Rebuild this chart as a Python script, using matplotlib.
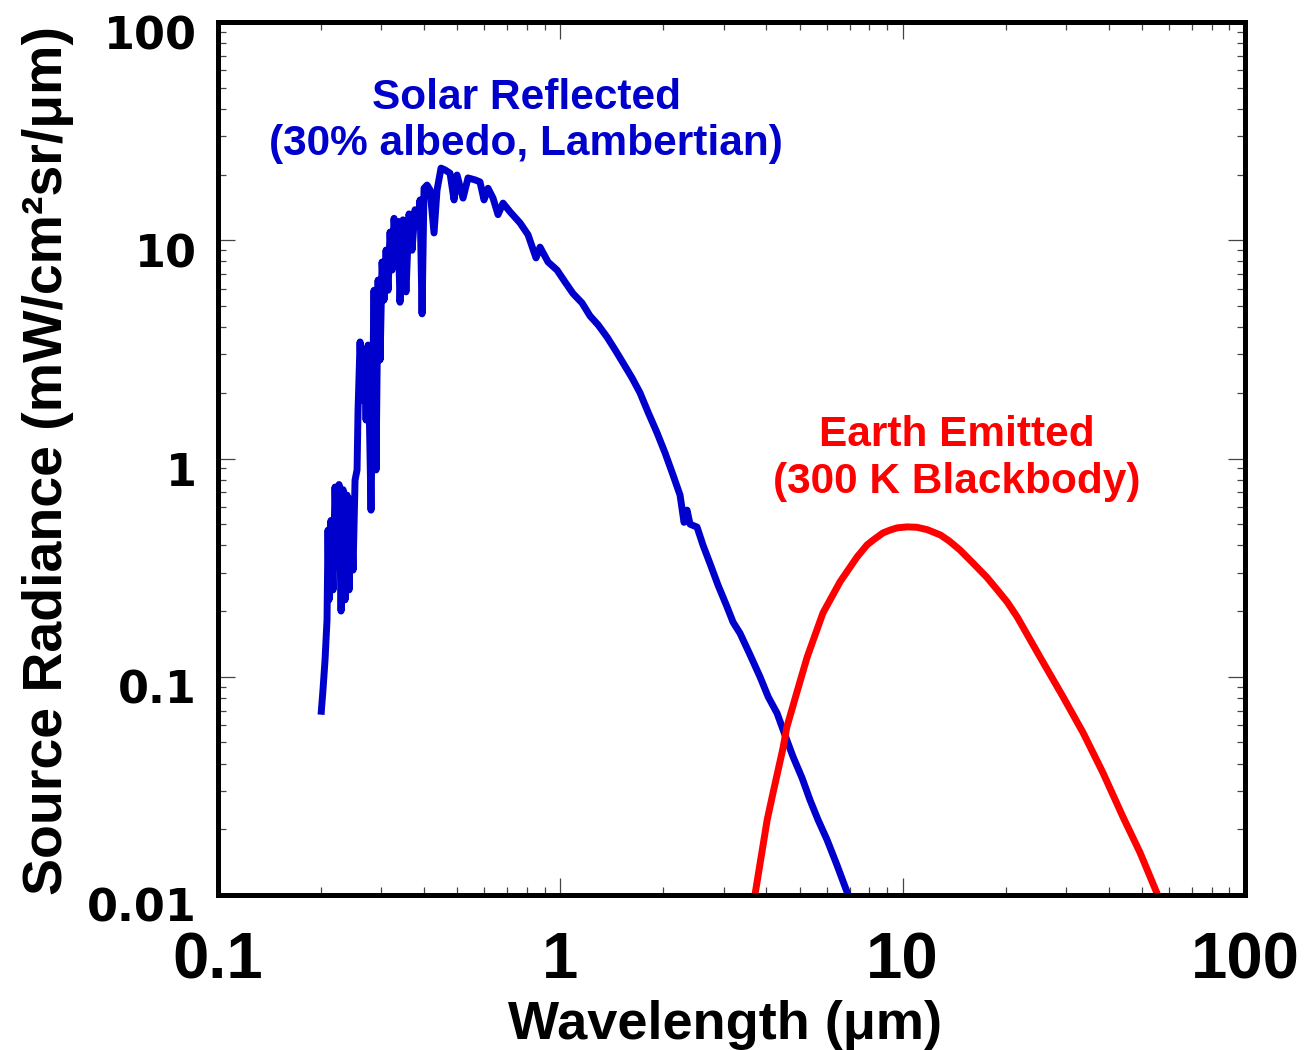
import matplotlib
matplotlib.use("Agg")
import matplotlib.pyplot as plt
from matplotlib.transforms import ScaledTranslation
from matplotlib.ticker import LogLocator, NullFormatter, FixedLocator, FixedFormatter

# ---- data ----
solar_wavelength = [
    0.200, 0.2026, 0.2054, 0.2082, 0.2096, 0.211, 0.2138, 0.2168, 0.2197, 0.2227,
    0.2257, 0.2288, 0.2319, 0.2350, 0.2382, 0.2414, 0.2447, 0.2480, 0.2514, 0.2548,
    0.2565, 0.2600, 0.2635, 0.2671, 0.2707, 0.2744, 0.2799, 0.2856, 0.2895, 0.2935,
    0.2975, 0.3015, 0.3055, 0.3097, 0.3139, 0.3181, 0.3224, 0.3268, 0.3311, 0.3356,
    0.3401, 0.3470, 0.3541, 0.3614, 0.3688, 0.3763, 0.3841, 0.3892, 0.3945, 0.3998,
    0.4080, 0.4163, 0.4276, 0.4364, 0.4482, 0.4604, 0.4761, 0.4892, 0.4992, 0.5197,
    0.5375, 0.5636, 0.5826, 0.5985, 0.6148, 0.6359, 0.6577, 0.6801, 0.7129, 0.7627,
    0.8046, 0.8492, 0.8724, 0.9206, 0.9781, 1.032, 1.089, 1.157, 1.221, 1.290,
    1.369, 1.445, 1.525, 1.620, 1.709, 1.804, 1.917, 2.023, 2.134, 2.237,
    2.298, 2.345, 2.393, 2.508, 2.612, 2.737, 2.888, 3.069, 3.195, 3.35,
    3.583, 3.832, 4.046, 4.297, 4.533, 4.784, 5.082, 5.364, 5.66, 6.013,
    6.43, 6.93,
]
solar_radiance = [
    0.067, 0.087, 0.119, 0.182, 0.47, 0.225, 0.52, 0.25, 0.74, 0.343,
    0.76, 0.20, 0.72, 0.225, 0.68, 0.25, 0.645, 0.308, 0.797, 0.886,
    1.67, 3.42, 1.85, 3.15, 1.50, 3.31, 0.58, 5.9, 0.886, 6.57,
    2.83, 7.95, 5.32, 9.02, 5.9, 10.9, 7.3, 12.6, 9.0, 12.2,
    5.2, 12.4, 5.8, 13.2, 9.0, 13.8, 11.7, 15.3, 4.6, 17.3,
    17.9, 17.0, 10.8, 17.0, 21.4, 21.0, 20.3, 15.3, 19.9, 15.6,
    19.3, 18.9, 18.5, 15.3, 17.3, 15.6, 13.1, 14.8, 13.5, 12.0,
    10.6, 8.3, 9.3, 7.95, 7.3, 6.44, 5.7, 5.16, 4.5, 4.09,
    3.6, 3.15, 2.74, 2.34, 2.0, 1.63, 1.31, 1.06, 0.84, 0.68,
    0.51, 0.58, 0.50, 0.485, 0.40, 0.33, 0.263, 0.209, 0.178, 0.158,
    0.126, 0.0998, 0.081, 0.068, 0.054, 0.043, 0.0344, 0.0272, 0.0221, 0.0179,
    0.0137, 0.0100,
]

earth_wavelength = [
    3.62, 3.71, 4.02, 4.18, 4.47, 4.59, 4.91, 5.26, 5.85, 6.56, 7.36, 7.87, 8.20,
    8.76, 9.19, 9.63, 10.3, 11.0, 11.8, 12.9, 13.7, 14.7, 16.1, 17.6, 18.9,
    20.2, 21.6, 25.2, 29.4, 33.7, 38.5, 44.0, 49.4, 55.3, 57.5,
]
earth_radiance = [
    0.0085, 0.0102, 0.0221, 0.0293, 0.0470, 0.0589, 0.085, 0.123, 0.196, 0.272,
    0.354, 0.402, 0.423, 0.456, 0.470, 0.481, 0.486, 0.484, 0.472, 0.446, 0.418,
    0.381, 0.330, 0.286, 0.250, 0.220, 0.188, 0.123, 0.081, 0.0552, 0.0362,
    0.0228, 0.0156, 0.0102, 0.0085,
]

x_ticks = [0.1, 1, 10, 100]
x_tick_labels = ["0.1", "1", "10", "100"]
y_ticks = [0.01, 0.1, 1, 10, 100]
y_tick_labels = ["0.01", "0.1", "1", "10", "100"]

solar_label = "Solar Reflected\n(30% albedo, Lambertian)"
earth_label = "Earth Emitted\n(300 K Blackbody)"
x_label = "Wavelength (\u03bcm)"
y_label = "Source Radiance (mW/cm\u00b2sr/\u03bcm)"

BLUE = "#0000CC"
RED = "#FF0000"
ARIAL = ["Liberation Sans", "DejaVu Sans"]

fig = plt.figure(figsize=(13.06, 10.5), dpi=100)
ax = fig.add_axes([218 / 1306, 1 - 895 / 1050, (1245 - 218) / 1306, (895 - 22) / 1050])

ax.plot(solar_wavelength, solar_radiance, color=BLUE, lw=5.0, solid_capstyle="butt")
ax.plot(earth_wavelength, earth_radiance, color=RED, lw=5.0, solid_capstyle="butt")

ax.set_xscale("log")
ax.set_yscale("log")
ax.set_xlim(0.1, 100)
ax.set_ylim(0.01, 100)

ax.xaxis.set_major_locator(FixedLocator(x_ticks))
ax.xaxis.set_major_formatter(FixedFormatter(x_tick_labels))
ax.yaxis.set_major_locator(FixedLocator(y_ticks))
ax.yaxis.set_major_formatter(FixedFormatter(y_tick_labels))
ax.xaxis.set_minor_locator(LogLocator(base=10, subs=range(2, 10), numticks=20))
ax.yaxis.set_minor_locator(LogLocator(base=10, subs=range(2, 10), numticks=20))
ax.xaxis.set_minor_formatter(NullFormatter())
ax.yaxis.set_minor_formatter(NullFormatter())

ax.tick_params(which="both", direction="in", top=True, right=True, color="#444444", width=0.9)
ax.tick_params(which="major", length=12)
ax.tick_params(which="minor", length=6)
ax.tick_params(axis="x", which="major", pad=26)
ax.tick_params(axis="y", which="major", pad=15)

for lab in ax.get_xticklabels():
    lab.set_fontfamily(ARIAL)
    lab.set_fontweight("bold")
    lab.set_fontsize(47)
offset = ScaledTranslation(0, -0.10, fig.dpi_scale_trans)
for lab in ax.get_yticklabels():
    lab.set_fontfamily("DejaVu Sans")
    lab.set_fontweight("bold")
    lab.set_fontsize(32)
    lab.set_transform(lab.get_transform() + offset)

for sp in ax.spines.values():
    sp.set_linewidth(3.6)
    sp.set_color("black")

ax.set_xlabel(x_label, fontsize=39, fontweight="bold", family=ARIAL)
ax.xaxis.set_label_coords((725 - 218) / 1027, (895 - 1000) / 873)
ax.set_ylabel(y_label, fontsize=40, fontweight="bold", family=ARIAL)
ax.yaxis.set_label_coords((74 - 218) / 1027, 0.5 - 2 / 873)

ax.text((526 - 218) / 1027, (895 - 121) / 873, solar_label, transform=ax.transAxes,
        ha="center", va="center", color=BLUE, fontsize=30.5, fontweight="bold",
        family=ARIAL, linespacing=1.2)
ax.text((957 - 218) / 1027, (895 - 458.5) / 873, earth_label, transform=ax.transAxes,
        ha="center", va="center", color=RED, fontsize=30.5, fontweight="bold",
        family=ARIAL, linespacing=1.2)

fig.savefig("out.png", dpi=100)
